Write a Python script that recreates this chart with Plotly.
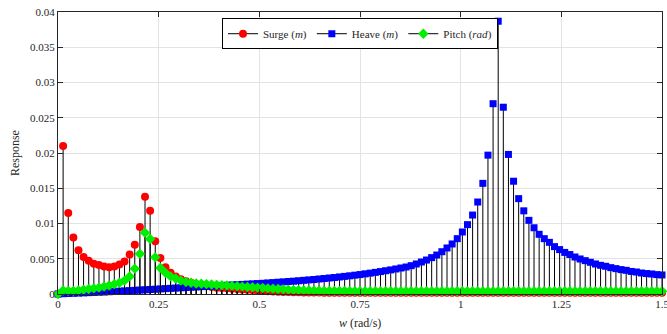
import numpy as np
import plotly.graph_objects as go

# frequency grid (rad/s)
w = list(np.linspace(0.0, 1.5, 119))

surge = [0, 0.0210, 0.0115, 0.0080, 0.0062, 0.00525, 0.0047, 0.0043, 0.0041, 0.0039,
         0.0038, 0.0039, 0.0042, 0.0046, 0.0056, 0.0070, 0.0095, 0.0138, 0.0118, 0.0075,
         0.0051, 0.0038, 0.0030, 0.0025, 0.0021, 0.0018, 0.0016, 0.0014, 0.0012, 0.0011,
         0.0010, 0.0009, 0.00085, 0.0008, 0.00075, 0.0007, 0.00065, 0.0006, 0.00055, 0.0005,
         0.00045, 0.0004, 0.00036, 0.00033, 0.0003, 0.00028, 0.00026, 0.00024, 0.00022, 0.0002,
         0.0002, 0.0002, 0.00019, 0.00019, 0.00018, 0.00018, 0.00018, 0.00017, 0.00017, 0.00017,
         0.00017, 0.00017, 0.00016, 0.00016, 0.00016, 0.00016, 0.00016, 0.00016, 0.00016, 0.00016,
         0.00016, 0.00016, 0.00016, 0.00016, 0.00016, 0.00016, 0.00016, 0.00016, 0.00016, 0.00016,
         0.00016, 0.00016, 0.00016, 0.00016, 0.00017, 0.00018, 0.00018, 0.00018, 0.00017, 0.00016,
         0.00016, 0.00016, 0.00016, 0.00016, 0.00016, 0.00016, 0.00016, 0.00016, 0.00016, 0.00016,
         0.00016, 0.00016, 0.00016, 0.00016, 0.00016, 0.00016, 0.00016, 0.00016, 0.00016, 0.00016,
         0.00016, 0.00016, 0.00016, 0.00016, 0.00016, 0.00016, 0.00016, 0.00016, 0.00016]

heave = [0, 0.00004, 0.00007, 0.0001, 0.00013, 0.00016, 0.00019, 0.00022, 0.00025, 0.00028,
         0.00032, 0.00036, 0.0004, 0.00044, 0.00048, 0.00052, 0.00056, 0.0006, 0.00064, 0.00068,
         0.00072, 0.00076, 0.0008, 0.00084, 0.00088, 0.00092, 0.00096, 0.001, 0.00104, 0.00108,
         0.00112, 0.00116, 0.0012, 0.00124, 0.00128, 0.00132, 0.00136, 0.0014, 0.00144, 0.00148,
         0.00152, 0.00157, 0.00162, 0.00167, 0.00172, 0.00177, 0.00182, 0.00188, 0.00194, 0.002,
         0.00206, 0.00213, 0.0022, 0.00227, 0.00234, 0.00242, 0.0025, 0.00258, 0.00267, 0.00276,
         0.00286, 0.00296, 0.00307, 0.00318, 0.0033, 0.00342, 0.00355, 0.00369, 0.00383, 0.00402,
         0.00426, 0.00454, 0.00482, 0.00516, 0.00553, 0.0060, 0.00653, 0.0071, 0.00785, 0.0088,
         0.00984, 0.0112, 0.01305, 0.0157, 0.0197, 0.0270, 0.0387, 0.0265, 0.0198, 0.0160,
         0.01353, 0.0118, 0.01045, 0.0094, 0.00847, 0.00785, 0.00733, 0.00672, 0.0063, 0.0059,
         0.0056, 0.00525, 0.00497, 0.00473, 0.0045, 0.00426, 0.00407, 0.00393, 0.00374, 0.0036,
         0.00346, 0.00336, 0.0032, 0.00312, 0.00298, 0.0029, 0.00284, 0.00275, 0.0027]

pitch = [0, 0.0005, 0.00045, 0.00045, 0.0005, 0.0006, 0.0007, 0.0008, 0.0009, 0.00105,
         0.0012, 0.0014, 0.0016, 0.0019, 0.0025, 0.0036, 0.0057, 0.0087, 0.0078, 0.0052,
         0.0037, 0.0030, 0.0025, 0.0022, 0.0019, 0.0017, 0.0016, 0.0015, 0.00145, 0.0014,
         0.00135, 0.0013, 0.00125, 0.0012, 0.00115, 0.0011, 0.00105, 0.001, 0.00095, 0.0009,
         0.00085, 0.0008, 0.00075, 0.0007, 0.00066, 0.00062, 0.00058, 0.00055, 0.00052, 0.0005,
         0.00048, 0.00046, 0.00045, 0.00044, 0.00043, 0.00042, 0.00042, 0.00041, 0.00041, 0.0004,
         0.0004, 0.0004, 0.0004, 0.0004, 0.0004, 0.0004, 0.0004, 0.0004, 0.0004, 0.0004,
         0.0004, 0.0004, 0.0004, 0.0004, 0.0004, 0.0004, 0.0004, 0.0004, 0.0004, 0.0004,
         0.0004, 0.0004, 0.0004, 0.0004, 0.0004, 0.0004, 0.0004, 0.0004, 0.0004, 0.0004,
         0.0004, 0.0004, 0.0004, 0.0004, 0.0004, 0.0004, 0.0004, 0.0004, 0.0004, 0.0004,
         0.0004, 0.0004, 0.0004, 0.0004, 0.0004, 0.0004, 0.0004, 0.0004, 0.0004, 0.0004,
         0.0004, 0.0004, 0.0004, 0.0004, 0.0004, 0.0004, 0.0004, 0.0004, 0.0004]

series_names = ["Surge (<i>m</i>)", "Heave (<i>m</i>)", "Pitch (<i>rad</i>)"]
x_ticks = [0, 0.25, 0.5, 0.75, 1, 1.25, 1.5]
x_ticklabels = ["0", "0.25", "0.5", "0.75", "1", "1.25", "1.5"]
y_ticks = [0, 0.005, 0.01, 0.015, 0.02, 0.025, 0.03, 0.035, 0.04]
y_ticklabels = ["0", "0.005", "0.01", "0.015", "0.02", "0.025", "0.03", "0.035", "0.04"]

styles = [
    dict(color="#ff0000", symbol="circle", size=8),
    dict(color="#0000ff", symbol="square", size=7),
    dict(color="#00ee00", symbol="diamond", size=8),
]

FONT = "Liberation Serif"
fig = go.Figure()

for vals, st in zip([surge, heave, pitch], styles):
    xs, ys = [], []
    for xv, yv in zip(w, vals):
        xs += [xv, xv, None]
        ys += [0, yv, None]
    fig.add_trace(go.Scatter(x=xs, y=ys, mode="lines", line=dict(color="black", width=1),
                             showlegend=False, hoverinfo="skip", cliponaxis=False))
    fig.add_trace(go.Scatter(x=w, y=vals, mode="markers",
                             marker=dict(color=st["color"], symbol=st["symbol"], size=st["size"],
                                         line=dict(width=0)),
                             showlegend=False, cliponaxis=False))

for name, st in zip(series_names, styles):
    fig.add_trace(go.Scatter(x=[None], y=[None], mode="lines+markers", name=name,
                             line=dict(color="black", width=1),
                             marker=dict(color=st["color"], symbol=st["symbol"], size=st["size"])))

axis_common = dict(showline=True, linecolor="#262626", linewidth=1, mirror="ticks",
                   ticks="inside", ticklen=5, tickcolor="#262626", automargin=False,
                   showgrid=True, gridcolor="#e3e3e3", gridwidth=1, zeroline=False,
                   ticklabeloverflow="allow",
                   tickfont=dict(family=FONT, size=11, color="#262626"))

fig.update_layout(
    width=667, height=334,
    margin=dict(l=58, r=5, t=12, b=40),
    paper_bgcolor="white", plot_bgcolor="white",
    font=dict(family=FONT, size=11, color="#262626"),
    xaxis=dict(range=[0, 1.50001], tickvals=x_ticks, ticktext=x_ticklabels, **axis_common),
    yaxis=dict(range=[0, 0.04001], tickvals=y_ticks, ticktext=y_ticklabels, **axis_common),
    legend=dict(orientation="h", x=0.5, xanchor="center", y=0.978, yanchor="top",
                bgcolor="white", bordercolor="black", borderwidth=1,
                font=dict(family=FONT, size=11), tracegroupgap=0, itemwidth=30),
    showlegend=True,
    annotations=[
        dict(text="<i>w</i> (rad/s)", xref="paper", yref="paper", x=0.5, y=-0.103,
             xanchor="center", yanchor="middle", showarrow=False,
             font=dict(family=FONT, size=12, color="#262626")),
        dict(text="Response", xref="paper", yref="paper", x=-0.071, y=0.5,
             xanchor="center", yanchor="middle", textangle=-90, showarrow=False,
             font=dict(family=FONT, size=12, color="#262626")),
    ],
)

fig.write_html("out.html", config={"displayModeBar": False},
               post_script="document.body.style.margin='0';document.body.style.padding='0';")
